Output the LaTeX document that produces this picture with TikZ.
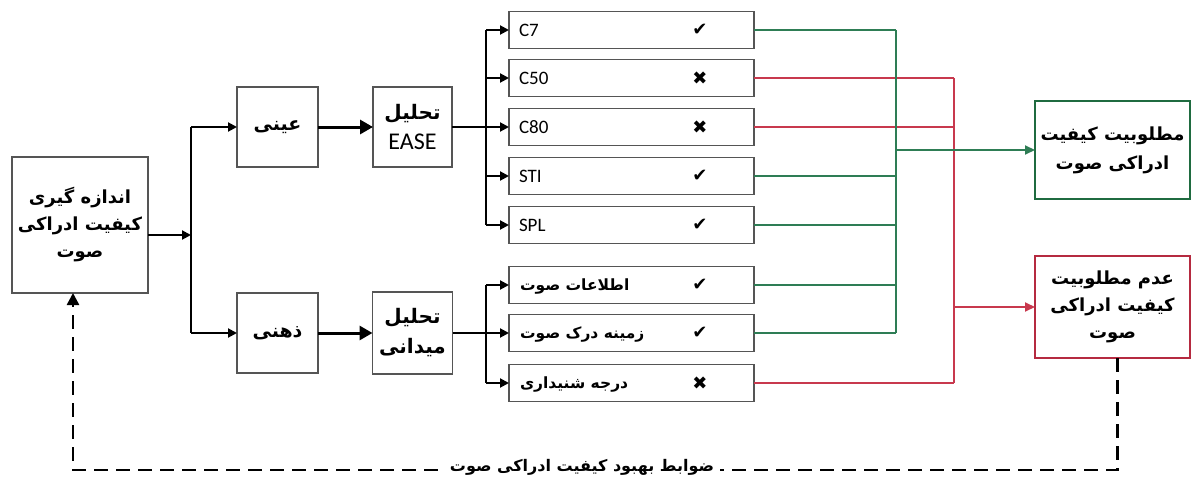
\documentclass[tikz,border=0pt]{standalone}
\usepackage{fontspec}
\setmainfont{Carlito}
\newfontfamily\arabicfont[Script=Arabic]{DejaVu Sans}
\newfontfamily\symfont{DejaVu Sans}
\TeXXeTstate=1
\usetikzlibrary{arrows.meta}
\newcommand{\prs}[1]{{\arabicfont\bfseries\beginR #1\endR}}
\newcommand{\lowr}[1]{\raisebox{-3pt}{#1}}
\definecolor{boxgray}{HTML}{555555}
\definecolor{okgreen}{HTML}{2E7D55}
\definecolor{okgreendark}{HTML}{1F6B40}
\definecolor{badred}{HTML}{C8394E}
\definecolor{badreddark}{HTML}{B52A40}
\tikzset{
  every node/.style={inner sep=0pt, outer sep=0pt},
  gbox/.style={draw=boxgray, line width=1.7pt, align=center},
  itembox/.style={gbox, minimum width=245pt, minimum height=37pt},
  conn/.style={line width=2pt, black},
  arr/.style={conn, -{Triangle[length=9pt,width=9pt]}},
  thickarr/.style={line width=3pt, -{Triangle[length=13pt,width=14pt]}},
  gline/.style={line width=2pt, okgreen},
  rline/.style={line width=2pt, badred},
  lab/.style={anchor=west, font=\fontsize{19}{22}\selectfont},
  plab/.style={anchor=west, font=\fontsize{15.5}{18}\selectfont},
  checkmk/.style={font=\symfont\fontsize{18}{20}\selectfont},
}
\begin{document}
\begin{tikzpicture}[x=1pt,y=-1pt]
\useasboundingbox (0,0) rectangle (1192,487);

% main box
\node[gbox, minimum width=136pt, minimum height=136pt, font=\fontsize{18}{27}\selectfont] (main) at (80,225)
  {\prs{اندازه گیری}\\\prs{کیفیت ادراکی}\\\prs{صوت}};

\node[gbox, minimum width=81pt, minimum height=80pt, font=\fontsize{19}{24}\selectfont] (ayni) at (277.5,127) {\lowr{\prs{عینی}}};
\node[gbox, minimum width=81pt, minimum height=80pt, font=\fontsize{19}{24}\selectfont] (zehni) at (277.5,333) {\lowr{\prs{ذهنی}}};

\node[gbox, minimum width=79pt, minimum height=80pt, font=\fontsize{20}{30}\selectfont] (ease) at (412.5,127)
  {\prs{تحلیل}\\{\fontsize{24}{28}\selectfont EASE}};
\node[gbox, minimum width=80pt, minimum height=82pt, font=\fontsize{20}{30}\selectfont] (field) at (412.5,333)
  {\prs{تحلیل}\\\prs{میدانی}};

% item boxes
\foreach \n/\y in {c7/30, c50/78, c80/127, sti/176, spl/225, info/285, zam/333, deg/383}
  \node[itembox] (\n) at (631.5,\y) {};

\node[lab] (tc7)  at (519,30)  {C7};
\node[lab] (tc50) at (519,78)  {C50};
\node[lab] (tc80) at (519,127) {C80};
\node[lab] (tsti) at (519,176) {STI};
\node[lab] (tspl) at (519,225) {SPL};
\node[plab] (tinfo) at (520,287) {\prs{اطلاعات صوت}};
\node[plab] (tzam)  at (520,335) {\prs{زمینه درک صوت}};
\node[plab] (tdeg)  at (520,385) {\prs{درجه شنیداری}};

\node[checkmk] (m1) at (700,30)  {✔};
\node[checkmk] (m2) at (700,78)  {✖};
\node[checkmk] (m3) at (700,127) {✖};
\node[checkmk] (m4) at (700,176) {✔};
\node[checkmk] (m5) at (700,225) {✔};
\node[checkmk] (m6) at (700,285) {✔};
\node[checkmk] (m7) at (700,333) {✔};
\node[checkmk] (m8) at (700,383) {✖};

% result boxes
\node[draw=okgreendark, line width=2.2pt, minimum width=155pt, minimum height=98pt, align=center,
      font=\fontsize{18}{29}\selectfont] (good) at (1112.5,150)
  {\prs{مطلوبیت کیفیت}\\\prs{ادراکی صوت}};
\node[draw=badreddark, line width=2.2pt, minimum width=155pt, minimum height=102pt, align=center,
      font=\fontsize{18}{27}\selectfont] (bad) at (1112.5,307)
  {\prs{عدم مطلوبیت}\\\prs{کیفیت ادراکی}\\\prs{صوت}};

% left connectors
\coordinate (split) at (191,235);
\draw[arr] (main.east |- split) -- (split);
\draw[conn] (split) -- (split |- ayni.west);
\draw[conn] (split) -- (split |- zehni.west);
\draw[arr] (split |- ayni.west) -- (ayni.west);
\draw[arr] (split |- zehni.west) -- (zehni.west);
\draw[thickarr] (ayni.east) -- (ayni.east -| ease.west);
\draw[thickarr] (zehni.east) -- (zehni.east -| field.west);

% EASE branches
\coordinate (b1) at (486,127);
\draw[arr] (ease.east) -- (c80.west);
\draw[conn] (b1 |- c7.west) -- (b1 |- spl.west);
\foreach \n in {c7,c50,sti,spl}
  \draw[arr] (b1 |- \n.west) -- (\n.west);

% field branches
\coordinate (b2) at (486,333);
\draw[arr] (field.east) -- (zam.west);
\draw[conn] (b2 |- info.west) -- (b2 |- deg.west);
\draw[arr] (b2 |- info.west) -- (info.west);
\draw[arr] (b2 |- deg.west) -- (deg.west);

% red connectors
\coordinate (rx) at (954,307);
\foreach \n in {c50,c80,deg}
  \draw[rline] (\n.east) -- (\n.east -| rx);
\draw[rline] (c50.east -| rx) -- (deg.east -| rx);
\draw[rline, -{Triangle[length=10pt,width=9pt]}] (rx) -- (bad.west);

% green connectors
\coordinate (gx) at (896,150);
\foreach \n in {c7,sti,spl,info,zam}
  \draw[gline] (\n.east) -- (\n.east -| gx);
\draw[gline] (c7.east -| gx) -- (zam.east -| gx);
\draw[gline, -{Triangle[length=10pt,width=9pt]}] (gx) -- (good.west);

% feedback
\coordinate (fb) at (600,470);
\draw[line width=2.5pt, dash pattern=on 14pt off 8pt, -{Triangle[length=12pt,width=12pt]}]
  ([xshift=5pt]bad.south) -- ([xshift=5pt]bad.south |- fb) -- ([xshift=-7pt]main.south |- fb) -- ([xshift=-7pt]main.south);
\node[fill=white, inner xsep=6pt, inner ysep=1pt, font=\fontsize{16}{18}\selectfont] (fbt) at (582,467)
  {\prs{ضوابط بهبود کیفیت ادراکی صوت}};
\end{tikzpicture}
\end{document}
